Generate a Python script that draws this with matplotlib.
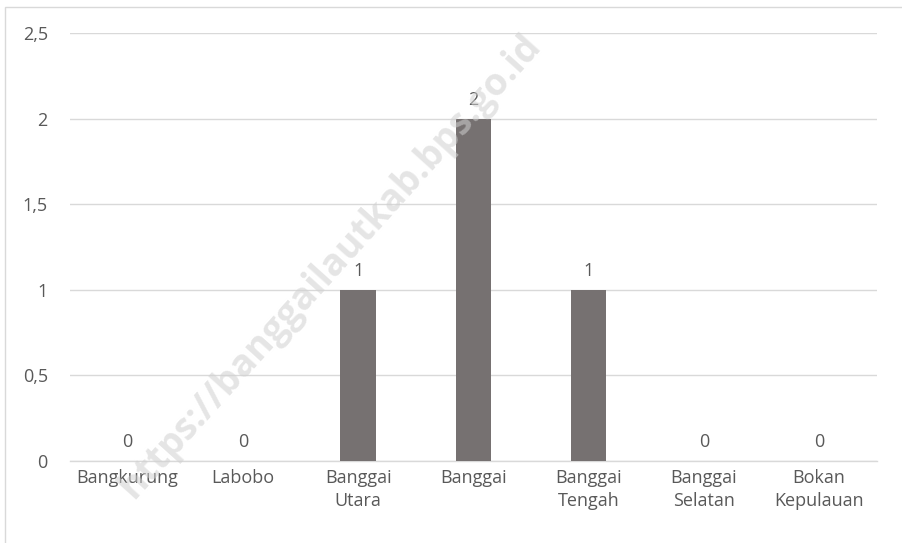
import matplotlib.pyplot as plt
from matplotlib.patches import Rectangle

categories = ['Bangkurung', 'Labobo', 'Banggai\nUtara', 'Banggai', 'Banggai\nTengah', 'Banggai\nSelatan', 'Bokan\nKepulauan']
values = [0, 0, 1, 2, 1, 0, 0]
yticks = [0, 0.5, 1, 1.5, 2, 2.5]
ytick_labels = ['0', '0,5', '1', '1,5', '2', '2,5']

plt.rcParams['font.family'] = ['Open Sans', 'DejaVu Sans']
text_col = '#595959'

fig = plt.figure(figsize=(9.02, 5.43), dpi=100)
ax = fig.add_axes([0.0776, 0.151, 0.8944, 0.788])

x = range(len(categories))
bars = ax.bar(x, values, width=0.31, color='#767171', zorder=3)

for b, v in zip(bars, values):
    ax.annotate(str(v), (b.get_x() + b.get_width() / 2, v), xytext=(0, 7),
                textcoords='offset points', ha='center', va='bottom',
                fontsize=13, color=text_col)

ax.set_xlim(-0.5, len(categories) - 0.5)
ax.set_ylim(0, 2.5)
ax.set_yticks(yticks)
ax.set_yticklabels(ytick_labels)
ax.set_xticks(list(x))
ax.set_xticklabels(categories, linespacing=1.35)
ax.tick_params(axis='both', length=0, labelsize=13, labelcolor=text_col)
ax.tick_params(axis='y', pad=16)
ax.tick_params(axis='x', pad=6)
ax.grid(axis='y', color='#d9d9d9', linewidth=1, zorder=0)
for s in ['top', 'right', 'left']:
    ax.spines[s].set_visible(False)
ax.spines['bottom'].set_color('#d9d9d9')
ax.spines['bottom'].set_linewidth(1)

# chart border
fig.patches.append(Rectangle((0.005, -0.01), 1.1, 0.997, transform=fig.transFigure,
                             fill=False, edgecolor='#d9d9d9', linewidth=1))

# watermark
fig.text(0.366, 0.51, 'https://banggailautkab.bps.go.id', rotation=48, ha='center', va='center',
         fontsize=27, fontweight='bold', color='#d0d0d0', alpha=0.55, zorder=10)

fig.savefig('out.png', dpi=100)
